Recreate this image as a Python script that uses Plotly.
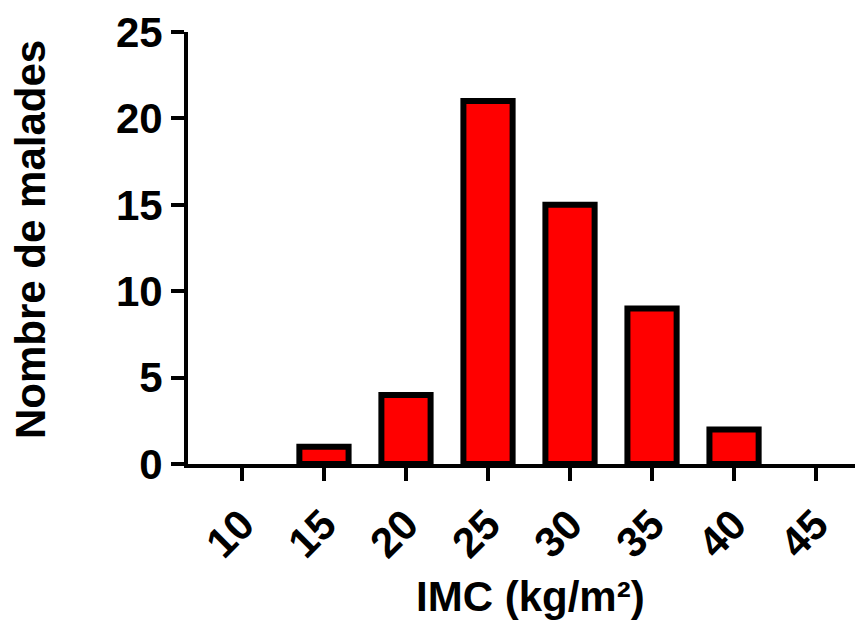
import plotly.graph_objects as go

imc = [10, 15, 20, 25, 30, 35, 40, 45]
patients = [0, 1, 4, 21, 15, 9, 2, 0]
y_ticks = [0, 5, 10, 15, 20, 25]
x_title = "IMC (kg/m²)"
y_title = "Nombre de malades"

FONT = "Liberation Sans, Arial, sans-serif"
SIZE = 42

L, R, T, B = 180, 0, 24, 165
W, H = 863, 621
PW, PH = W - L - R, H - T - B

# no outline for empty bins (nothing is drawn for them in the reference)
outline_widths = [6 if v > 0 else 0 for v in patients]

fig = go.Figure(
    go.Bar(
        x=imc,
        y=patients,
        width=3,
        marker=dict(color="#ff0000", line=dict(color="black", width=outline_widths)),
    )
)

fig.update_layout(
    width=W,
    height=H,
    margin=dict(l=L, r=R, t=T, b=B, autoexpand=False),
    plot_bgcolor="white",
    paper_bgcolor="white",
    showlegend=False,
    font=dict(family=FONT, color="black", size=SIZE, weight="bold"),
)

fig.update_xaxes(
    range=[10 - 3.29, 48.35],
    tickvals=imc,
    ticktext=[str(v) for v in imc],
    tickangle=-45,
    ticks="outside",
    ticklen=13,
    tickwidth=4,
    tickcolor="black",
    ticklabelstandoff=2,
    showline=True,
    linecolor="black",
    linewidth=4,
    showgrid=False,
    zeroline=False,
    automargin=False,
    tickfont=dict(family=FONT, size=SIZE, weight="bold"),
)

fig.update_yaxes(
    range=[0, 25],
    tickvals=y_ticks,
    ticks="outside",
    ticklen=13,
    tickwidth=4,
    tickcolor="black",
    showline=True,
    linecolor="black",
    linewidth=4,
    showgrid=False,
    zeroline=False,
    automargin=False,
    tickfont=dict(family=FONT, size=SIZE, weight="bold"),
)


def px(xv):
    return (xv - 8 - L) / PW


def py(yv):
    return (T + PH - (yv - 8)) / PH


fig.add_annotation(
    text=x_title, xref="paper", yref="paper",
    x=px(530), y=py(596),
    xanchor="center", yanchor="middle", showarrow=False,
    font=dict(family=FONT, size=SIZE, weight="bold", color="black"),
)
fig.add_annotation(
    text=y_title, xref="paper", yref="paper",
    x=px(30), y=py(240),
    xanchor="center", yanchor="middle", textangle=-90, showarrow=False,
    font=dict(family=FONT, size=SIZE, weight="bold", color="black"),
)

fig.write_html("out.html")
